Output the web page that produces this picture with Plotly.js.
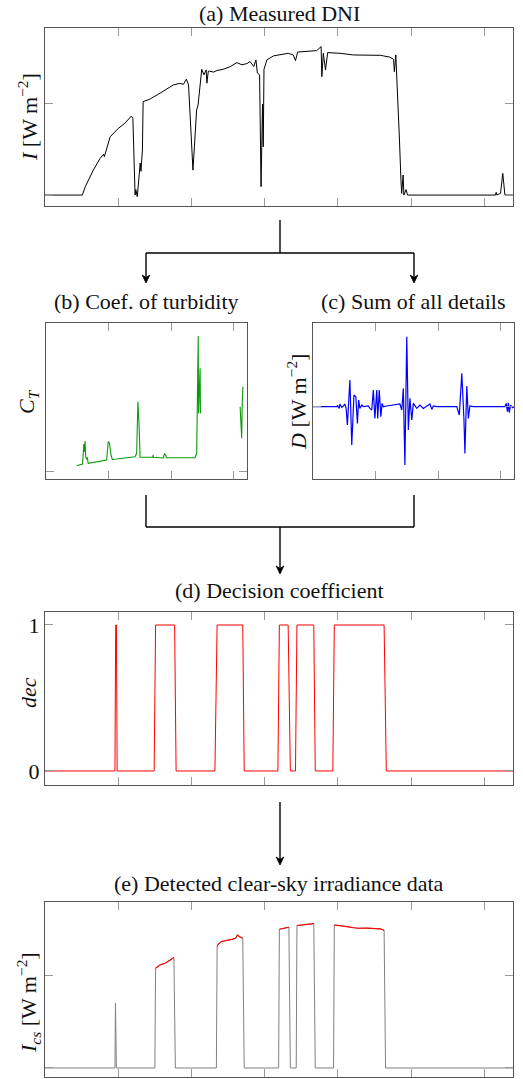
<!DOCTYPE html>
<html>
<head>
<meta charset="utf-8">
<script src="https://cdn.plot.ly/plotly-3.0.1.min.js"></script>
</head>
<body style="margin:0;background:#fff;font-family:'Liberation Serif'">
<div id="chart"></div>
<script>
// ---- (a) Measured DNI ----
const dniX = [0,0.51,0.55,0.66,0.75,0.80,0.81,0.89,1.00,1.09,1.18,1.20,1.23,1.24,1.26,1.30,1.31,1.33,1.34,1.43,1.57,1.66,1.75,1.84,1.89,1.93,1.96,1.98,2.02,2.04,2.07,2.09,2.14,2.17,2.20,2.21,2.23,2.25,2.30,2.35,2.43,2.53,2.62,2.69,2.76,2.80,2.85,2.88,2.90,2.93,2.95,2.97,2.98,2.99,3.03,3.12,3.21,3.32,3.39,3.42,3.45,3.58,3.71,3.77,3.78,3.80,3.83,3.86,4.03,4.21,4.39,4.58,4.62,4.71,4.76,4.77,4.79,4.81,4.84,4.86,4.87,4.89,4.90,4.93,4.95,6.15,6.16,6.17,6.22,6.25,6.27,6.28,6.39];
const dniY = [0,0,46,137,200,225,210,320,366,394,434,420,0,30,-9,176,130,247,513,526,559,581,604,613,608,636,604,450,137,265,467,494,690,660,687,614,680,680,675,684,690,705,727,715,722,733,705,742,670,660,46,500,265,690,742,764,769,778,769,738,785,788,793,815,650,778,687,782,778,769,769,767,764,757,745,677,769,600,302,82,9,110,0,30,0,0,15,0,10,119,10,0,0];

// ---- (b) Coefficient of turbidity ----
const ctX = [0.98,1.17,1.21,1.23,1.25,1.27,1.30,1.32,1.35,1.94,1.99,2.03,2.08,2.12,2.26,2.85,2.90,2.94,2.98,3.01,3.41,3.43,3.44,3.75,3.79,3.83,3.86,4.77,4.82,4.85,4.87,4.88,4.90,4.93,4.94,null,6.21,6.24,6.26,6.28,6.30];
const ctY = [0.53,0.70,2.70,1.93,3.00,1.43,1.17,1.37,0.77,1.10,2.93,2.77,1.60,1.17,1.20,1.43,1.77,6.93,4.43,1.37,1.37,1.60,1.37,1.30,1.70,1.60,1.33,1.33,1.77,9.10,13.5,5.77,7.43,10.27,5.77,null,6.43,5.10,3.27,7.10,8.43];

// ---- (c) Sum of all details ----
const detX = [0,0.76,0.78,0.84,0.86,0.92,0.97,1.02,1.06,1.10,1.18,1.24,1.31,1.37,1.42,1.46,1.50,1.56,1.61,1.77,1.82,1.88,1.93,1.98,2.04,2.07,2.12,2.17,2.21,2.25,2.36,2.78,2.84,2.89,2.94,3.00,3.05,3.10,3.16,3.21,3.32,3.42,3.53,3.64,3.74,3.80,3.85,3.96,4.60,4.68,4.76,4.83,4.86,4.92,4.97,5.02,5.13,6.14,6.18,6.22,6.25,6.28,6.32,6.38,6.43];
const detY = [0,0,1.3,-1.7,2.7,-0.7,0.7,2.7,-1.7,-18.3,26.7,-38.3,11.7,10,-16.7,6.7,-1.7,1.7,0,0.7,-1.7,-3.3,16.7,-11.7,16.7,-11.7,16.7,-10,3.3,0,0.7,2.7,-3.3,18.3,-58.3,70,-23.3,8.3,-13.3,3.3,-1.7,1.7,-1.7,0.7,2.7,-2.7,0.7,0,0,-8.3,33.3,-13.3,-46.7,20.7,-11.7,0.7,0,0,3.3,-5,4,-6,1.7,-1,0];

// ---- (d) Decision coefficient ----
const decX = [0,0.955,0.965,0.975,0.985,1.49,1.51,1.77,1.79,2.32,2.35,2.70,2.72,3.18,3.20,3.32,3.35,3.42,3.44,3.67,3.69,3.93,3.95,4.63,4.66,6.39];
const decY = [0,0,1,1,0,0,1,1,0,0,1,1,0,0,1,1,0,0,1,1,0,0,1,1,0,0];

// ---- (e) Detected clear-sky irradiance (full series, grey) ----
const csX = [0,0.955,0.962,0.975,1.50,1.51,1.57,1.64,1.71,1.76,1.78,2.34,2.35,2.37,2.41,2.48,2.55,2.60,2.63,2.65,2.70,2.72,3.19,3.20,3.26,3.33,3.35,3.43,3.44,3.55,3.64,3.67,3.69,3.94,3.95,4.03,4.12,4.21,4.28,4.39,4.51,4.58,4.63,4.65,6.39];
const csY = [0,0,352,0,0,542,560,569,587,600,0,0,663,674,687,692,699,705,723,714,705,0,0,754,759,765,0,0,774,777,783,786,0,0,777,774,768,762,759,760,757,756,748,0,0];
// clear-sky segments (red)
const csClearX = [1.51,1.57,1.64,1.71,1.76,null,2.35,2.37,2.41,2.48,2.55,2.60,2.63,2.65,2.70,null,3.20,3.26,3.33,null,3.44,3.55,3.64,3.67,null,3.95,4.03,4.12,4.21,4.28,4.39,4.51,4.58,4.63];
const csClearY = [542,560,569,587,600,null,663,674,687,692,699,705,723,714,705,null,754,759,765,null,774,777,783,786,null,777,774,768,762,759,760,757,756,748];

// Titles
const panelTitles = ['(a) Measured DNI','(b) Coef. of turbidity','(c) Sum of all details','(d) Decision coefficient','(e) Detected clear-sky irradiance data'];
const yLabels = ['<i>I</i> [W m<sup>−2</sup>]','<i>C<sub>T</sub></i>','<i>D</i> [W m<sup>−2</sup>]','<i>dec</i>','<i>I<sub>cs</sub></i> [W m<sup>−2</sup>]'];

const W = 523, H = 1079;
const PX = p => p / W;
const PY = p => 1 - p / H;
const FONT = 'Liberation Serif';

function axX(left, right, range, dtick) {
  return {domain:[PX(left),PX(right)], range:range, tickmode:'linear', tick0:0, dtick:dtick,
    ticks:'inside', ticklen:8, tickwidth:1, tickcolor:'#9a9a9a', showticklabels:false,
    showline:true, mirror:'ticks', linecolor:'#555', linewidth:1, showgrid:false, zeroline:false, fixedrange:true};
}
function axY(top, bottom, range, tickvals, labels) {
  return {domain:[PY(bottom),PY(top)], range:range, tickmode:'array', tickvals:tickvals,
    ticks:'inside', ticklen:8, tickwidth:1, tickcolor:'#9a9a9a', showticklabels:!!labels,
    tickfont:{family:FONT, size:22, color:'#111'},
    showline:true, mirror:'ticks', linecolor:'#555', linewidth:1, showgrid:false, zeroline:false, fixedrange:true};
}

const traces = [
  {x:dniX, y:dniY, xaxis:'x', yaxis:'y', mode:'lines', line:{color:'#000', width:1}},
  {x:ctX, y:ctY, xaxis:'x2', yaxis:'y2', mode:'lines', line:{color:'#0a9a0a', width:1.1}, connectgaps:false},
  {x:detX, y:detY, xaxis:'x3', yaxis:'y3', mode:'lines', line:{color:'#0000ff', width:1.2}},
  {x:decX, y:decY, xaxis:'x4', yaxis:'y4', mode:'lines', line:{color:'#ff0000', width:1}},
  {x:csX, y:csY, xaxis:'x5', yaxis:'y5', mode:'lines', line:{color:'#808080', width:1}},
  {x:csClearX, y:csClearY, xaxis:'x5', yaxis:'y5', mode:'lines', line:{color:'#ff0000', width:1.1}, connectgaps:false}
];

const ann = [];
const titlePos = [[279,13],[146,302],[413,302],[279,590],[279,883]];
panelTitles.forEach((t,i)=>{
  ann.push({text:t, xref:'paper', yref:'paper', x:PX(titlePos[i][0]), y:PY(titlePos[i][1]),
    xanchor:'center', yanchor:'middle', showarrow:false, font:{family:FONT, size:22, color:'#111'}});
});
const labelPos = [[28,117],[28,402],[297,402],[28,693],[28,1003]];
yLabels.forEach((t,i)=>{
  ann.push({text:t, xref:'paper', yref:'paper', x:PX(labelPos[i][0]), y:PY(labelPos[i][1]),
    xanchor:'center', yanchor:'middle', textangle:-90, showarrow:false, font:{family:FONT, size:22, color:'#111'}});
});

// flow-chart connectors (decoration, paper coordinates)
function seg(x0,y0,x1,y1){
  return {type:'line', xref:'paper', yref:'paper', x0:PX(x0), y0:PY(y0), x1:PX(x1), y1:PY(y1), line:{color:'#000', width:1.4}};
}
function head(x, yTip){
  const p = (a,b)=>PX(a)+','+PY(b);
  return {type:'path', xref:'paper', yref:'paper', fillcolor:'#000', line:{color:'#000', width:0.8},
    path:'M'+p(x,yTip)+' L'+p(x-3.8,yTip-8)+' L'+p(x,yTip-5.5)+' L'+p(x+3.8,yTip-8)+' Z'};
}
const shapes = [
  seg(280,220,280,253), seg(146,253,414,253),
  seg(146,253,146,279), seg(414,253,414,279), head(146,283), head(414,283),
  seg(146,495,146,527), seg(414,495,414,527), seg(146,527,414,527),
  seg(280,527,280,570), head(280,574),
  seg(280,802,280,861), head(280,865)
];

const layout = {
  width:W, height:H, margin:{l:0,r:0,t:0,b:0}, paper_bgcolor:'#fff', plot_bgcolor:'#fff',
  showlegend:false, font:{family:FONT, size:22, color:'#111'},
  xaxis: axX(45,513,[0,6.39],1),
  yaxis: axY(28,206,[-60,917],[0,500]),
  xaxis2: axX(46,247,[0,6.43],2),
  yaxis2: axY(323,479,[-0.8,14.8],[0]),
  xaxis3: axX(313,514,[0,6.43],2),
  yaxis3: axY(323,479,[-72.3,83.7],[0]),
  xaxis4: axX(45,513,[0,6.39],1),
  yaxis4: axY(612,785,[-0.096,1.089],[0,1],true),
  xaxis5: axX(45,513,[0,6.39],1),
  yaxis5: axY(902,1077,[-49,902],[0,500]),
  annotations: ann, shapes: shapes
};
['','2','3','4','5'].forEach(k=>{ layout['xaxis'+k].anchor='y'+k; layout['yaxis'+k].anchor='x'+k; });

Plotly.newPlot('chart', traces, layout, {staticPlot:true, displayModeBar:false});
</script>
</body>
</html>
